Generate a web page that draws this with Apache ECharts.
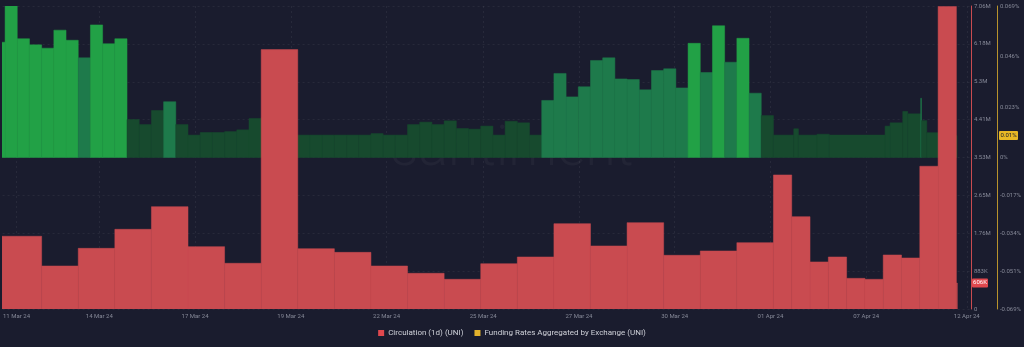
<!DOCTYPE html>
<html><head><meta charset="utf-8">
<script src="https://cdn.jsdelivr.net/npm/echarts@6/dist/echarts.min.js"></script>
<style>html,body{margin:0;padding:0;background:#1a1c2e;}#c{width:1024px;height:347px;}</style>
</head><body><div id="c"></div>
<script>
// ---- data (x positions are hours along the drawn time scale, from 11 Mar 24 00:00) ----
const circStartHour = -2;
const circValues = [1695000, 1002000, 1414000, 1857000, 2385000, 1453000, 1065000, 6044000, 1406000, 1320000,
  1002000, 832000, 692000, 1056000, 1212000, 1989000, 1469000, 2012000, 1251000, 1352000, 1546000,
  3124000, 2152000, 1096000, 1212000, 715000, 692000, 1259000, 1189000, 3326000, 7050000, 606000];
const circHours = [26, 24, 24, 24, 24, 24, 24, 24, 24, 24, 24, 24, 24, 24, 24, 24, 24, 24, 24, 24, 24,
  12, 12, 12, 12, 12, 12, 12, 12, 12, 12, 0.6];

const fundStartHour = -8;
const fundValues = [0.0525, 0.069, 0.0541, 0.0513, 0.0498, 0.058, 0.0534, 0.0454, 0.0604, 0.0518, 0.0541,
  0.0173, 0.015, 0.0214, 0.0254, 0.015, 0.0102, 0.0114, 0.0114, 0.0118, 0.0126,
  0.0178, 0.0182, 0.0163, 0.0102, 0.0102, 0.0102, 0.0102, 0.0102, 0.0102, 0.0102,
  0.0109, 0.0102, 0.0102, 0.015, 0.0161, 0.015, 0.0167, 0.0132, 0.0129, 0.0143,
  0.0102, 0.0165, 0.0158, 0.0102, 0.026, 0.0383, 0.0276, 0.0322, 0.0442, 0.0454,
  0.0358, 0.0355, 0.0308, 0.0396, 0.0404, 0.0317, 0.052, 0.0387, 0.060, 0.0434,
  0.0543, 0.0293, 0.0191,
  0.0102, 0.0131, 0.0102, 0.0106, 0.0102, 0.0143, 0.0158, 0.021, 0.0199, 0.027, 0.0168, 0.0113, 0.010];
const fundHours = [8, 8, 8, 8, 8, 8, 8, 8, 8, 8, 8, 8, 8, 8, 8, 8, 8, 8, 8, 8, 8, 8, 8, 8, 8, 8, 8, 8, 8, 8, 8, 8,
  8, 8, 8, 8, 8, 8, 8, 8, 8, 8, 8, 8, 8, 8, 8, 8, 8, 8, 8, 8, 8, 8, 8, 8, 8, 8, 8, 8, 8, 8, 8, 8,
  13.3, 3.1, 12.2, 8, 36.6, 3.3, 8.3, 3.3, 8.5, 0.5, 3.5, 7.4, 12.4];

const xLabelHours = [7.5, 61.8, 124.6, 187.4, 250.2, 313.6, 376.4, 439.2, 502, 564.8, 630.8];
const xLabelTexts = ['11 Mar 24', '14 Mar 24', '17 Mar 24', '19 Mar 24', '22 Mar 24', '25 Mar 24',
  '27 Mar 24', '30 Mar 24', '01 Apr 24', '07 Apr 24', '12 Apr 24'];
const circTickLabels = ['0', '883K', '1.76M', '2.65M', '3.53M', '4.41M', '5.3M', '6.18M', '7.06M'];
const fundTickValues = [0.069, 0.046, 0.023, 0, -0.01725, -0.0345, -0.05175, -0.069];
const fundTickLabels = ['0.069%', '0.046%', '0.023%', '0%', '-0.017%', '-0.034%', '-0.051%', '-0.069%'];

// ---- build ----
function toSpans(start, durs, vals) {
  let t = start;
  return vals.map((v, i) => { const a = t; t += durs[i]; return [a, t, v]; });
}
const circData = toSpans(circStartHour, circHours, circValues);
const fundData = toSpans(fundStartHour, fundHours, fundValues);

const BG = '#1a1c2e';
const RED = '#c94b50';
const circInterval = 882500;

function rectItem(api, fill) {
  const p0 = api.coord([api.value(0), api.value(2)]);
  const p1 = api.coord([api.value(1), 0]);
  return {
    type: 'rect',
    shape: { x: p0[0], y: Math.min(p0[1], p1[1]), width: p1[0] - p0[0], height: Math.abs(p1[1] - p0[1]) },
    style: { fill: fill, stroke: fill, lineWidth: 0.5 }
  };
}
function greenFill(v) {
  if (v >= 0.047) return '#22a146';
  if (v >= 0.023) return '#1e7a4b';
  return '#174a2e';
}
function nearestLabel(values, labels, v) {
  let i = 0, b = Infinity;
  values.forEach((t, j) => { if (Math.abs(t - v) < b) { b = Math.abs(t - v); i = j; } });
  return labels[i];
}

const chart = echarts.init(document.getElementById('c'), null, { renderer: 'canvas' });
const axisLabelColor = '#868998';
const gridLine = { show: true, lineStyle: { color: 'rgba(255,255,255,0.06)', type: [2, 3] } };
chart.setOption({
  backgroundColor: BG,
  animation: false,
  textStyle: { fontFamily: 'Roboto, "Open Sans", sans-serif' },
  grid: { left: 0, right: 53, top: 6, bottom: 38 },
  legend: {
    bottom: 5, left: 'center', itemWidth: 6, itemHeight: 6, itemGap: 11, icon: 'rect',
    textStyle: { color: '#cfd1d9', fontSize: 8, padding: [0, 0, 0, -1] },
    data: ['Circulation (1d) (UNI)', 'Funding Rates Aggregated by Exchange (UNI)']
  },
  xAxis: {
    type: 'value', min: -1.635, max: 633.5,
    axisLine: { show: false, onZero: false },
    axisTick: { show: false, customValues: xLabelHours },
    axisLabel: {
      customValues: xLabelHours, color: axisLabelColor, fontSize: 6, margin: 4,
      formatter: (v) => nearestLabel(xLabelHours, xLabelTexts, v)
    },
    splitLine: gridLine
  },
  yAxis: [{
    type: 'value', position: 'right', offset: 0, min: 0, max: 7060000, interval: circInterval,
    axisLine: { show: true, onZero: false, lineStyle: { color: RED, width: 1 } },
    axisTick: { show: false },
    axisLabel: { color: axisLabelColor, fontSize: 6, margin: 3, formatter: (v) => circTickLabels[Math.round(v / circInterval)] },
    splitLine: gridLine
  }, {
    type: 'value', position: 'right', offset: 26, min: -0.069, max: 0.069,
    axisLine: { show: true, onZero: false, lineStyle: { color: '#b8932c', width: 1 } },
    axisTick: { show: false },
    axisLabel: {
      customValues: fundTickValues, color: axisLabelColor, fontSize: 6, margin: 3,
      formatter: (v) => nearestLabel(fundTickValues, fundTickLabels, v)
    },
    splitLine: { show: false }
  }],
  series: [{
    type: 'custom', name: 'Funding Rates Aggregated by Exchange (UNI)', xAxisIndex: 0, yAxisIndex: 1, z: 2, clip: true,
    itemStyle: { color: '#e3b22c' },
    encode: { x: [0, 1], y: 2 },
    data: fundData,
    renderItem: (params, api) => rectItem(api, greenFill(api.value(2)))
  }, {
    type: 'custom', name: 'Circulation (1d) (UNI)', xAxisIndex: 0, yAxisIndex: 0, z: 3, clip: true,
    itemStyle: { color: '#e0484e' },
    encode: { x: [0, 1], y: 2 },
    data: circData,
    renderItem: (params, api) => rectItem(api, RED)
  }]
});

// value tags at the right axes, placed through the axis scales
const lastCirc = circValues[circValues.length - 1];
const lastFund = fundValues[fundValues.length - 1];
const yC = chart.convertToPixel({ yAxisIndex: 0 }, lastCirc);
const yF = chart.convertToPixel({ yAxisIndex: 1 }, lastFund);
const circTagText = Math.round(lastCirc / 1000) + 'K';
const fundTagText = (+lastFund.toFixed(3)) + '%';
chart.setOption({
  graphic: [{
    type: 'text', z: 0, left: 'center', top: 124, silent: true,
    style: { text: 'santiment', font: '300 55px Roboto, sans-serif', fill: 'rgba(255,255,255,0.035)' }
  }, {
    type: 'group', z: 10, silent: true, children: [
      { type: 'rect', shape: { x: 972, y: yC - 4.5, width: 16, height: 9, r: 1 }, style: { fill: '#e0484e' } },
      { type: 'text', style: { x: 980, y: yC, text: circTagText, align: 'center', verticalAlign: 'middle', font: '6px Roboto, sans-serif', fill: '#ffffff' } },
      { type: 'rect', shape: { x: 999, y: yF - 4.5, width: 19, height: 9, r: 1 }, style: { fill: '#e8b825' } },
      { type: 'text', style: { x: 1008.5, y: yF, text: fundTagText, align: 'center', verticalAlign: 'middle', font: '6px Roboto, sans-serif', fill: '#1a1c2e' } }
    ]
  }]
});
</script>
</body></html>
